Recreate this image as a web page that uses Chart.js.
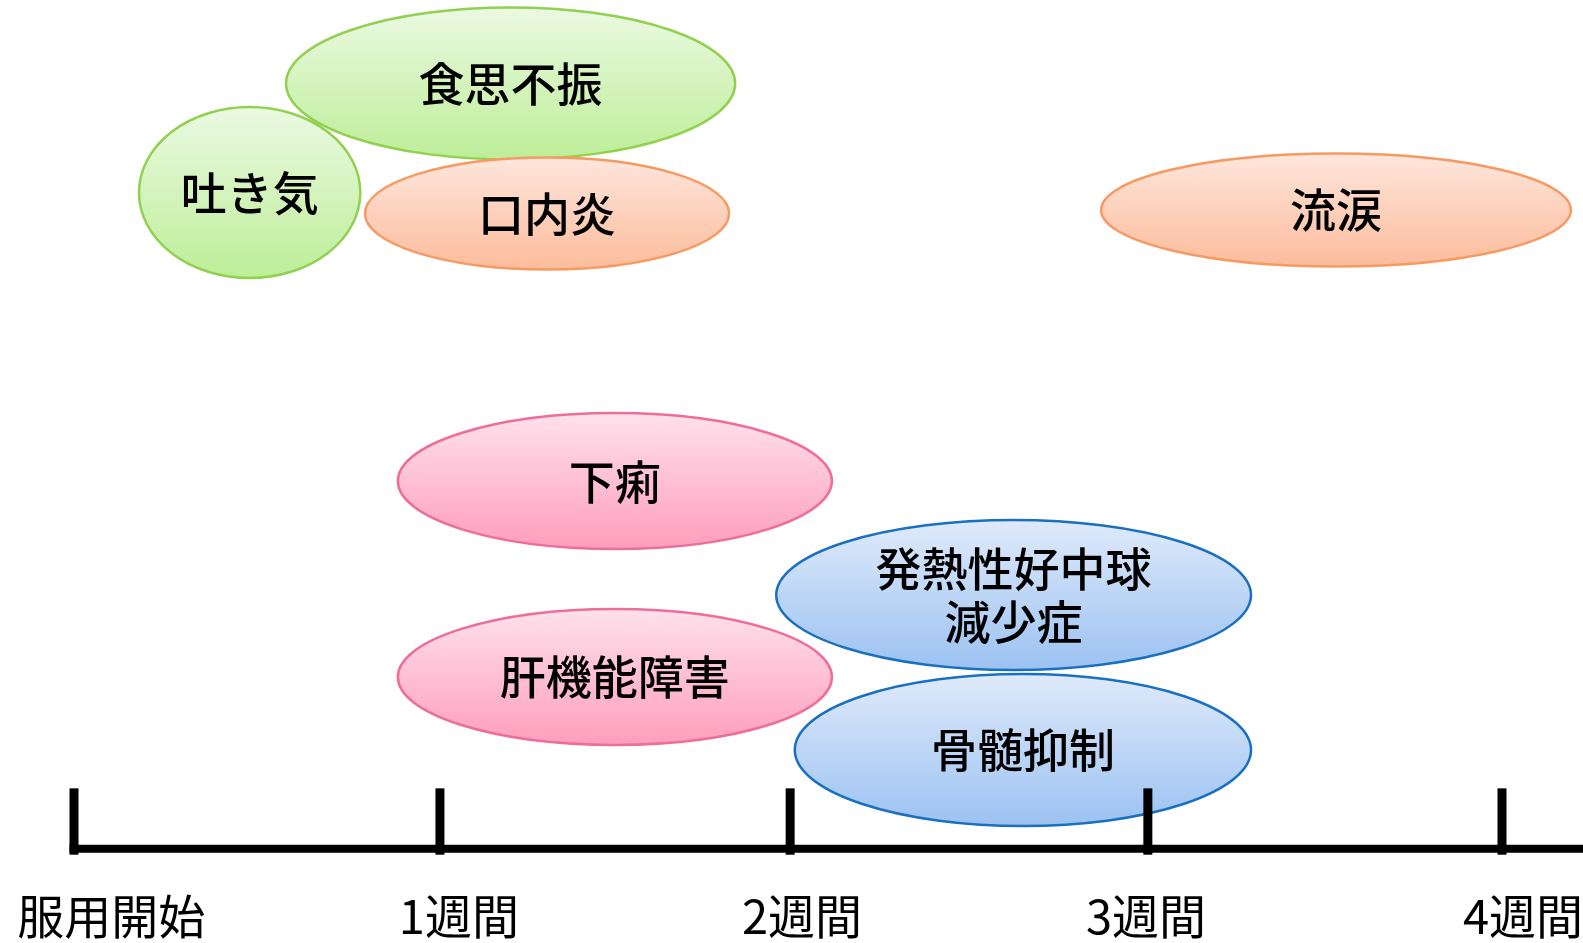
<!DOCTYPE html>
<html lang="ja">
<head>
<meta charset="utf-8">
<title>副作用の発現時期</title>
<script src="https://cdn.jsdelivr.net/npm/chart.js@4.4.1/dist/chart.umd.min.js"></script>
<style>
  html, body { margin: 0; padding: 0; background: #fff; }
  #wrap { position: relative; width: 1583px; height: 943px; }
</style>
</head>
<body>
<div id="wrap"><canvas id="timeline"></canvas></div>
<script>
// 服用開始からの週数
const tickWeeks = [0, 1.025, 2.006, 3.008, 4];
const tickLabels = ["服用開始", "1週間", "2週間", "3週間", "4週間"];
const labelWeeks = [0.104, 1.078, 2.039, 3.003, 4.059];

// 副作用ごとの発現期間（週）と段の位置
const symptoms = ["食思不振", "吐き気", "口内炎", "流涙", "下痢", "肝機能障害", "発熱性好中球\n減少症", "骨髄抑制"];
const startWeek = [0.594, 0.182, 0.815, 2.877, 0.907, 0.907, 1.967, 2.019];
const endWeek   = [1.852, 0.802, 1.835, 4.193, 2.123, 2.123, 3.297, 3.297];
const rowCenter = [8.115, 6.959, 6.736, 6.773, 3.899, 1.821, 2.690, 1.047];
const rowHalf   = [0.806, 0.907, 0.594, 0.599, 0.721, 0.721, 0.795, 0.806];
const group     = ["gi", "gi", "mucosa", "mucosa", "organ", "organ", "blood", "blood"];

const palette = {
  gi:     { top: "#ebf9e2", bottom: "#bdee98", border: "#92d050" },
  mucosa: { top: "#fee6dc", bottom: "#fcbc9c", border: "#f79a62" },
  organ:  { top: "#ffe1eb", bottom: "#fe9dbd", border: "#ee6d99" },
  blood:  { top: "#dfeafa", bottom: "#9cc2f2", border: "#1a70c0" }
};

const TICK_HEIGHT = 0.64;
const FONT = '"Noto Sans CJK JP", "Noto Sans", sans-serif';

// 楕円・軸・ラベルはスケール経由で描く
const timelinePlugin = {
  id: "timeline",
  beforeDatasetsDraw(chart) {
    const ctx = chart.ctx;
    const xs = chart.scales.x, ys = chart.scales.y;

    symptoms.forEach((name, i) => {
      const x0 = xs.getPixelForValue(startWeek[i]);
      const x1 = xs.getPixelForValue(endWeek[i]);
      const yTop = ys.getPixelForValue(rowCenter[i] + rowHalf[i]);
      const yBot = ys.getPixelForValue(rowCenter[i] - rowHalf[i]);
      const cx = (x0 + x1) / 2, cy = (yTop + yBot) / 2;
      const c = palette[group[i]];

      const grad = ctx.createLinearGradient(0, yTop, 0, yBot);
      grad.addColorStop(0, c.top);
      grad.addColorStop(1, c.bottom);

      ctx.save();
      ctx.beginPath();
      ctx.ellipse(cx, cy, (x1 - x0) / 2, (yBot - yTop) / 2, 0, 0, Math.PI * 2);
      ctx.fillStyle = grad;
      ctx.fill();
      ctx.lineWidth = 2.5;
      ctx.strokeStyle = c.border;
      ctx.stroke();

      ctx.fillStyle = "#000";
      ctx.font = "500 46px " + FONT;
      ctx.textAlign = "center";
      ctx.textBaseline = "middle";
      const lines = name.split("\n");
      const lh = 53;
      lines.forEach((ln, k) => {
        ctx.fillText(ln, cx, cy + (k - (lines.length - 1) / 2) * lh);
      });
      ctx.restore();
    });

    // 時間軸
    const base = ys.getPixelForValue(0);
    const tickTop = ys.getPixelForValue(TICK_HEIGHT);
    ctx.save();
    ctx.strokeStyle = "#000";
    ctx.lineWidth = 8;
    ctx.beginPath();
    ctx.moveTo(xs.getPixelForValue(tickWeeks[0]) - 4.5, base);
    ctx.lineTo(chart.width, base);
    ctx.stroke();

    ctx.lineWidth = 9;
    tickWeeks.forEach(w => {
      const px = xs.getPixelForValue(w);
      ctx.beginPath();
      ctx.moveTo(px, tickTop);
      ctx.lineTo(px, base + 6);
      ctx.stroke();
    });

    ctx.fillStyle = "#000";
    ctx.font = "47px " + FONT;
    ctx.textAlign = "center";
    ctx.textBaseline = "middle";
    const labelY = ys.getPixelForValue(-0.714);
    tickLabels.forEach((t, i) => {
      ctx.fillText(t, xs.getPixelForValue(labelWeeks[i]), labelY);
    });
    ctx.restore();
  }
};

new Chart(document.getElementById("timeline"), {
  type: "scatter",
  data: {
    datasets: [{
      label: "副作用",
      data: symptoms.map((s, i) => ({ x: (startWeek[i] + endWeek[i]) / 2, y: rowCenter[i] })),
      pointRadius: 0,
      pointHoverRadius: 0
    }]
  },
  options: {
    responsive: true,
    maintainAspectRatio: false,
    animation: false,
    devicePixelRatio: 1,
    layout: { padding: 0, autoPadding: false },
    plugins: { legend: { display: false }, tooltip: { enabled: false } },
    events: [],
    scales: {
      x: { type: "linear", min: -0.2073, max: 4.2269, display: false },
      y: { type: "linear", min: -1, max: 9, display: false }
    }
  },
  plugins: [timelinePlugin]
});
</script>
</body>
</html>
